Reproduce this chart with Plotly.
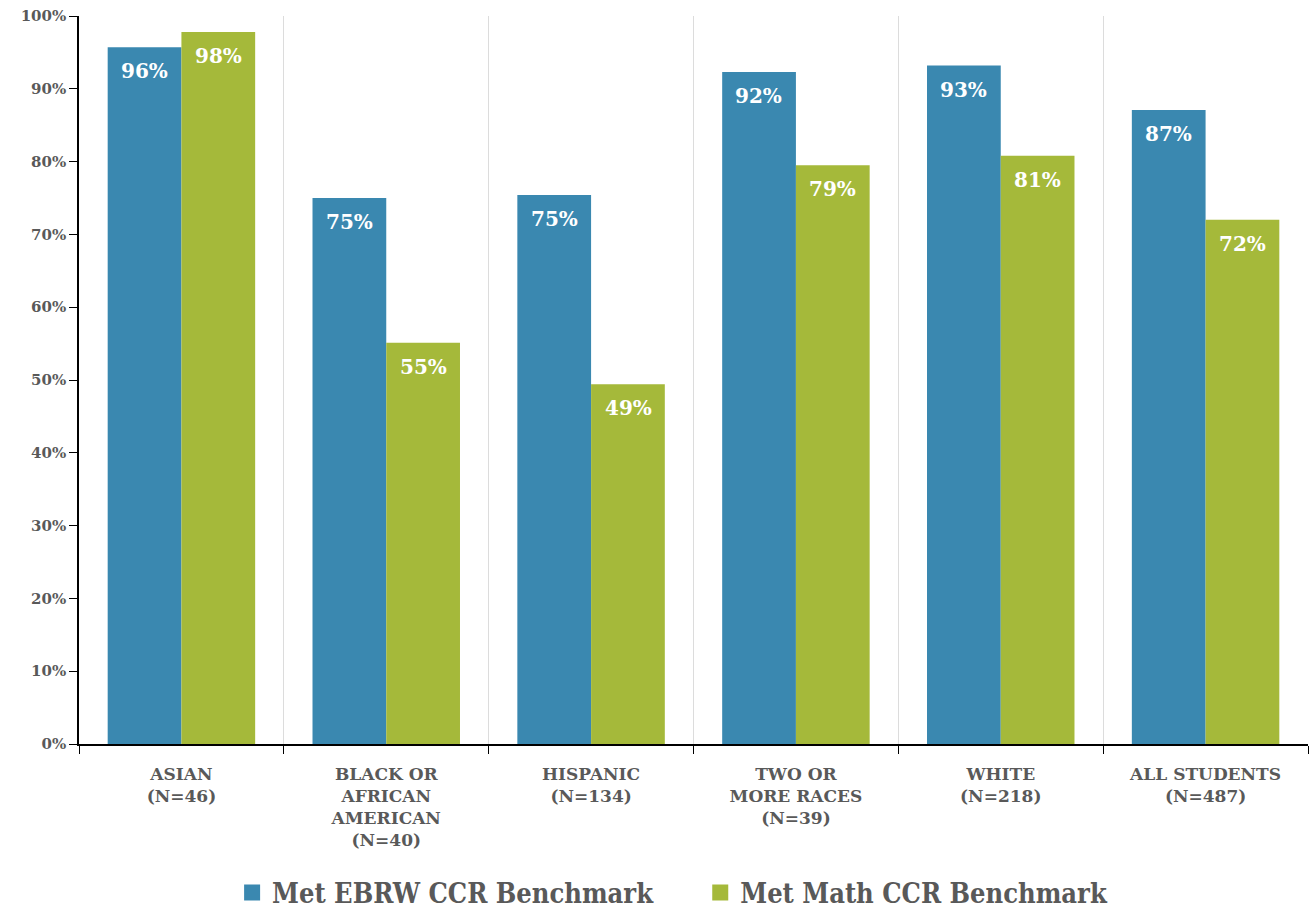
import plotly.graph_objects as go

categories = ["ASIAN<br>(N=46)", "BLACK OR<br>AFRICAN<br>AMERICAN<br>(N=40)", "HISPANIC<br>(N=134)",
              "TWO OR<br>MORE RACES<br>(N=39)", "WHITE<br>(N=218)", "ALL STUDENTS<br>(N=487)"]
ebrw = [95.7, 75.0, 75.4, 92.3, 93.2, 87.1]
math = [97.8, 55.1, 49.4, 79.5, 80.8, 72.0]
ebrw_labels = ["96%", "75%", "75%", "92%", "93%", "87%"]
math_labels = ["98%", "55%", "49%", "79%", "81%", "72%"]
y_ticks = list(range(0, 101, 10))

FONT = "DejaVu Serif"
GRAY = "#595959"
BLUE = "#3A88B0"
GREEN = "#A5B93A"

fig = go.Figure()
fig.add_trace(go.Bar(x=categories, y=ebrw, name="Met EBRW CCR Benchmark", marker_color=BLUE,
                     marker_line_width=0, showlegend=False))
fig.add_trace(go.Bar(x=categories, y=math, name="Met Math CCR Benchmark", marker_color=GREEN,
                     marker_line_width=0, showlegend=False))

# legend entries with larger square swatches
for name, col in [("Met EBRW CCR Benchmark" + "\u00a0" * 5, BLUE), ("Met Math CCR Benchmark", GREEN)]:
    fig.add_trace(go.Scatter(x=[None], y=[None], mode="markers", name=name,
                             marker=dict(symbol="square", size=18, color=col)))

# value labels inside bar tops
for vals, labs, shift in [(ebrw, ebrw_labels, -37), (math, math_labels, 37)]:
    for c, v, t in zip(categories, vals, labs):
        fig.add_annotation(x=c, y=v, text=t, showarrow=False, xshift=shift, yshift=-24,
                           font=dict(family=FONT, size=20, color="white", weight="bold"))

fig.update_layout(
    width=1310, height=908,
    margin=dict(l=79, r=2, t=16, b=164),
    paper_bgcolor="white", plot_bgcolor="white",
    barmode="group", bargap=0.28, bargroupgap=0,
    legend=dict(orientation="h", x=0.483, xanchor="center", xref="paper",
                y=0.0165, yanchor="middle", yref="container",
                font=dict(family="DejaVu Serif Condensed, " + FONT, size=27, color=GRAY, weight="bold"),
                itemwidth=30, tracegroupgap=0),
    showlegend=True,
)
fig.update_xaxes(
    automargin=False,
    tickson="boundaries", ticks="outside", ticklen=8, tickcolor="black",
    showline=True, linecolor="black", linewidth=1.5,
    showgrid=True, gridcolor="#DCDCDC", gridwidth=1,
    ticklabelstandoff=14,
    tickfont=dict(family=FONT, size=17, color=GRAY, weight="bold"),
)
fig.update_yaxes(
    automargin=False,
    range=[0, 100], tickvals=y_ticks, ticktext=[f"{v}%" for v in y_ticks],
    ticks="outside", ticklen=8, tickcolor="black",
    showline=True, linecolor="black", linewidth=1.5, showgrid=False, zeroline=False,
    tickfont=dict(family=FONT, size=15, color=GRAY, weight="bold"),
)
fig.write_html("out.html", config={"displayModeBar": False},
               post_script="document.body.style.margin='0px';document.body.style.overflow='hidden';")
